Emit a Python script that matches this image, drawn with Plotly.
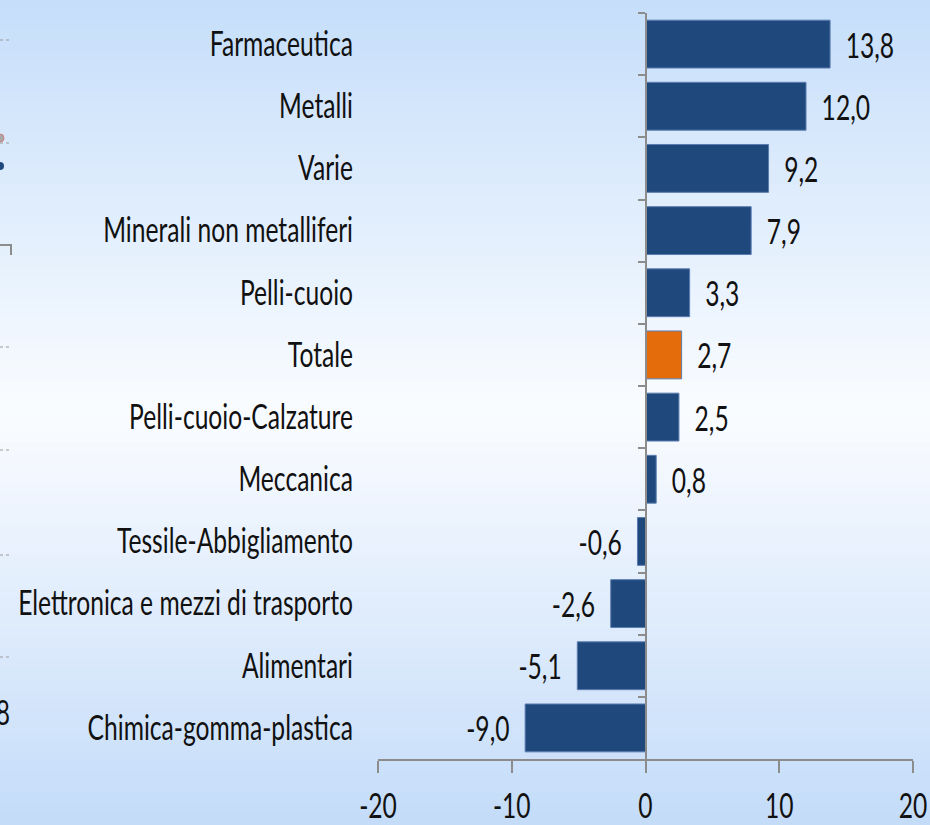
import plotly.graph_objects as go

categories = ["Farmaceutica", "Metalli", "Varie", "Minerali non metalliferi",
              "Pelli-cuoio", "Totale", "Pelli-cuoio-Calzature", "Meccanica",
              "Tessile-Abbigliamento", "Elettronica e mezzi di trasporto",
              "Alimentari", "Chimica-gomma-plastica"]
values = [13.8, 12.0, 9.2, 7.9, 3.3, 2.7, 2.5, 0.8, -0.6, -2.6, -5.1, -9.0]
highlight = "Totale"
x_ticks = [-20, -10, 0, 10, 20]

BLUE = "#1F497D"
ORANGE = "#E46C0A"
FONT = "Lato, Open Sans, DejaVu Sans, sans-serif"
FS = 34

W, H = 930, 825
ML, MR, MT, MB = 378, 17, 13, 66

colors = [ORANGE if c == highlight else BLUE for c in categories]
NB = "\u00a0"
labels = []
for v in values:
    s = f"{v:.1f}".replace(".", ",")
    labels.append(NB * 2 + s if v >= 0 else s + NB * 2)

fig = go.Figure()
fig.add_trace(go.Bar(
    x=values, y=categories, orientation="h",
    marker=dict(color=colors, line=dict(color="#5B7DB0", width=1)),
    text=labels, textposition="outside", cliponaxis=False, constraintext="none",
    textfont=dict(family=FONT, size=FS, color="#111111"),
    hoverinfo="skip", yaxis="y",
))
# invisible twin trace for the zero-line axis with boundary ticks
fig.add_trace(go.Bar(
    x=[0] * len(categories), y=categories, orientation="h",
    marker=dict(color="rgba(0,0,0,0)"), hoverinfo="skip",
    showlegend=False, yaxis="y2",
))

plot_h = H - MT - MB
plot_w = W - ML - MR


def px_x(px):
    return (px - ML) / plot_w


def px_y(py):
    return (H - MB - py) / plot_h


# background vertical gradient (light blue -> near white -> light blue)
top_c = (197, 222, 250)
mid_c = (250, 252, 255)
bot_c = (196, 220, 249)
N = 80
shapes = []
for i in range(N):
    f0 = i / N
    f1 = (i + 1) / N
    fm = (f0 + f1) / 2
    if fm < 0.5:
        t = fm / 0.5
        c = [top_c[k] + (mid_c[k] - top_c[k]) * t for k in range(3)]
    else:
        t = (fm - 0.5) / 0.5
        c = [mid_c[k] + (bot_c[k] - mid_c[k]) * t for k in range(3)]
    ya = px_y(H * f0)
    yb = px_y(H * f1)
    shapes.append(dict(type="rect", xref="paper", yref="paper",
                       x0=px_x(0), x1=px_x(W), y0=yb, y1=ya + 0.002,
                       fillcolor="rgb(%d,%d,%d)" % tuple(int(round(v)) for v in c),
                       line=dict(width=0), layer="below"))

# fragments of a neighbouring chart visible at the left edge
for py in [40, 143, 347, 450, 555, 657]:
    shapes.append(dict(type="line", xref="paper", yref="paper",
                       x0=px_x(0), x1=px_x(10), y0=px_y(py), y1=px_y(py),
                       line=dict(color="#9A9A9A", width=1, dash="dot")))
shapes.append(dict(type="circle", xref="paper", yref="paper",
                   x0=px_x(-4), x1=px_x(4), y0=px_y(142), y1=px_y(134),
                   fillcolor="#A8A8A8", line=dict(color="#D08080", width=1)))
shapes.append(dict(type="circle", xref="paper", yref="paper",
                   x0=px_x(-4), x1=px_x(4), y0=px_y(170), y1=px_y(162),
                   fillcolor="#1F497D", line=dict(width=0)))
shapes.append(dict(type="path", xref="paper", yref="paper",
                   path="M %f %f L %f %f L %f %f" % (px_x(0), px_y(245), px_x(11), px_y(245),
                                                    px_x(11), px_y(255)),
                   line=dict(color="#8C8C8C", width=2)))

annotations = [dict(xref="paper", yref="paper", x=px_x(-9), y=px_y(711),
                    text="8", showarrow=False, xanchor="left", yanchor="middle",
                    font=dict(family=FONT, size=FS, color="#111111"))]

fig.update_layout(
    width=W, height=H,
    margin=dict(l=ML, r=MR, t=MT, b=MB, autoexpand=False),
    paper_bgcolor="rgb(230,240,253)",
    plot_bgcolor="rgba(0,0,0,0)",
    shapes=shapes,
    annotations=annotations,
    showlegend=False,
    bargap=0.23,
    barmode="overlay",
    font=dict(family=FONT, size=FS, color="#111111"),
    xaxis=dict(
        range=[-20, 20], tickvals=x_ticks, ticktext=[str(t) for t in x_ticks],
        showgrid=False, zeroline=False, showline=True, linecolor="#8C8C8C",
        linewidth=2, ticks="outside", ticklen=12, tickwidth=2, tickcolor="#8C8C8C",
        tickfont=dict(family=FONT, size=FS, color="#111111"),
        ticklabelstandoff=4, ticklabeloverflow="allow",
        fixedrange=True, automargin=False,
    ),
    yaxis=dict(
        categoryorder="array", categoryarray=categories, autorange="reversed",
        showgrid=False, zeroline=False, showline=False, ticks="",
        tickfont=dict(family=FONT, size=FS, color="#111111"),
        ticklabelstandoff=24, ticklabeloverflow="allow",
        fixedrange=True, automargin=False,
    ),
    yaxis2=dict(
        overlaying="y", anchor="free", position=0.5,
        categoryorder="array", categoryarray=categories, autorange="reversed",
        showgrid=False, zeroline=False, showline=True, linecolor="#8C8C8C",
        linewidth=2, ticks="outside", tickson="boundaries", ticklen=7,
        tickwidth=2, tickcolor="#8C8C8C", showticklabels=False, fixedrange=True,
        automargin=False,
    ),
)

# The reference uses a tall, horizontally condensed face; squeeze text horizontally
post = """
document.body.style.margin = '0';
var gd = document.getElementById('{plot_id}');
function squeeze() {
  var texts = gd.querySelectorAll('text');
  var f = 0.68;
  texts.forEach(function (t) {
    if (t.textContent.trim() === 'Elettronica e mezzi di trasporto') {
      var w = t.getBBox().width;
      if (w > 0) { f = 335 / w; }
    }
  });
  texts.forEach(function (t) {
    if (t.getAttribute('data-sq')) { return; }
    var txt = t.textContent.trim();
    if (!txt) { return; }
    var bb = t.getBBox();
    var anchor = t.getAttribute('text-anchor') || 'start';
    var cls = t.getAttribute('class') || '';
    var ax;
    if (cls.indexOf('bartext') >= 0) {
      ax = txt.charAt(0) === '-' ? bb.x + bb.width : bb.x;
    } else if (anchor === 'end') {
      ax = bb.x + bb.width;
    } else if (anchor === 'middle') {
      ax = bb.x + bb.width / 2;
    } else {
      ax = bb.x;
    }
    var tr = t.getAttribute('transform') || '';
    t.setAttribute('transform', tr + ' translate(' + ax + ',0) scale(' + f + ',1) translate(' + (-ax) + ',0)');
    t.setAttribute('data-sq', '1');
  });
}
squeeze();
"""

fig.write_html("out.html", post_script=post, config={"displayModeBar": False})
